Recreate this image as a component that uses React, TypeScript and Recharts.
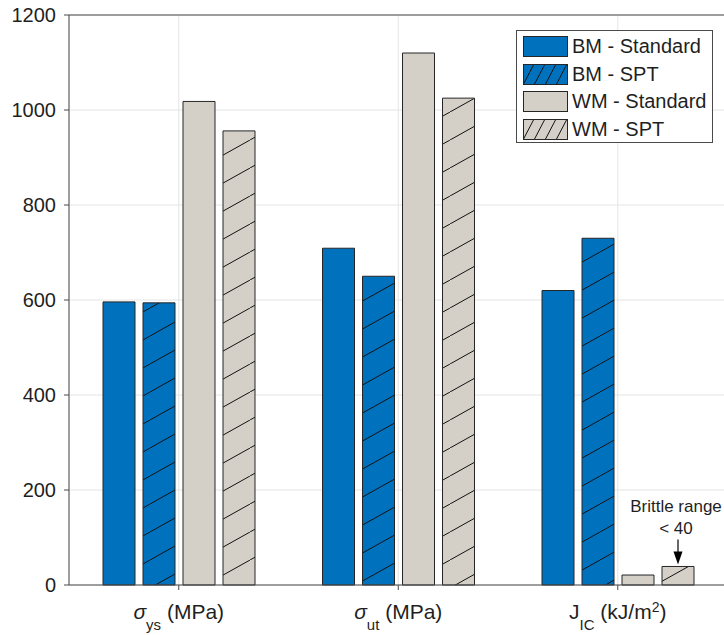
import React from 'react';
import { BarChart, Bar, XAxis, YAxis, CartesianGrid, LabelList } from 'recharts';

// ---------------- data ----------------
const CATEGORIES = ['sigma_ys', 'sigma_ut', 'J_IC'];
const BM_STANDARD = [596, 709, 620];
const BM_SPT = [594, 650, 730];
const WM_STANDARD = [1018, 1120, 21];
const WM_SPT = [956, 1025, 39];
const Y_TICKS = [0, 200, 400, 600, 800, 1000, 1200];
const SERIES_NAMES = ['BM - Standard', 'BM - SPT', 'WM - Standard', 'WM - SPT'];

type Part = { t: string; italic?: boolean; sub?: boolean; sup?: boolean };
const TICK_LABELS: Part[][] = [
  [{ t: 'σ', italic: true }, { t: 'ys', sub: true }, { t: ' (MPa)' }],
  [{ t: 'σ', italic: true }, { t: 'ut', sub: true }, { t: ' (MPa)' }],
  [{ t: 'J' }, { t: 'IC', sub: true }, { t: ' (kJ/m' }, { t: '2', sup: true }, { t: ')' }],
];
const ANNOTATION_LINES = ['Brittle range', '< 40'];
const ANNOTATION_INDEX = 2;

// ---------------- style ----------------
const FONT = '"Liberation Sans", Arial, Helvetica, sans-serif';
const TEXT = '#1f1f1f';
const BLUE = '#0072BD';
const GRAY = '#D4D0C8';
const EDGE = '#262626';
const AXIS = '#4a4a4a';
const GRID = '#e4e4e4';
const SUB_DY = 11;
const SUP_DY = -7;

const data = CATEGORIES.map((name, i) => ({
  name,
  bmStd: BM_STANDARD[i],
  bmSpt: BM_SPT[i],
  wmStd: WM_STANDARD[i],
  wmSpt: WM_SPT[i],
}));

const SERIES = [
  { key: 'bmStd', fill: BLUE, legendFill: BLUE },
  { key: 'bmSpt', fill: 'url(#hatchBlue)', legendFill: 'url(#legHatchBlue)' },
  { key: 'wmStd', fill: GRAY, legendFill: GRAY },
  { key: 'wmSpt', fill: 'url(#hatchGray)', legendFill: 'url(#legHatchGray)' },
];

const Patterns = () => (
  <svg width={0} height={0} style={{ position: 'absolute' }}>
    <defs>
      {[
        ['hatchBlue', BLUE],
        ['hatchGray', GRAY],
      ].map(([id, c]) => (
        <pattern key={id} id={id} patternUnits="userSpaceOnUse" width={50} height={28}>
          <rect width={50} height={28} fill={c} />
          <line x1={-5} y1={30.8} x2={55} y2={-2.8} stroke="#111" strokeWidth={1} />
        </pattern>
      ))}
      {[
        ['legHatchBlue', BLUE],
        ['legHatchGray', GRAY],
      ].map(([id, c]) => (
        <pattern key={id} id={id} patternUnits="userSpaceOnUse" width={11} height={21}>
          <rect width={11} height={21} fill={c} />
          <line x1={-1} y1={22.9} x2={12} y2={-1.9} stroke="#111" strokeWidth={1} />
        </pattern>
      ))}
    </defs>
  </svg>
);

const YTick = (props: any) => {
  const { x, y, payload } = props;
  return (
    <text x={x} y={y} dy="0.36em" textAnchor="end" fontSize={20} fill={TEXT} fontFamily={FONT}>
      {payload.value}
    </text>
  );
};

const XTick = (props: any) => {
  const { x, y, payload } = props;
  const i = CATEGORIES.indexOf(payload.value);
  const parts = TICK_LABELS[i] || [];
  let shift = 0;
  const spans = parts.map((p, k) => {
    const target = p.sub ? SUB_DY : p.sup ? SUP_DY : 0;
    const dy = target - shift;
    shift = target;
    return (
      <tspan
        key={k}
        dy={dy}
        fontSize={p.sub ? 15 : p.sup ? 14 : 21}
        fontStyle={p.italic ? 'italic' : 'normal'}
      >
        {p.t}
      </tspan>
    );
  });
  return (
    <text x={x} y={y + 29} textAnchor="middle" fill={TEXT} fontFamily={FONT} style={{ whiteSpace: 'pre' }}>
      {spans}
    </text>
  );
};

const BrittleLabel = (props: any) => {
  const vb = props.viewBox || props;
  const x = props.x ?? vb.x;
  const y = props.y ?? vb.y;
  const width = props.width ?? vb.width;
  if (props.index !== ANNOTATION_INDEX) return null;
  const cx = x + width / 2;
  return (
    <g>
      <text x={cx - 2} y={y - 54} textAnchor="middle" fontSize={17} fill={TEXT} fontFamily={FONT}>
        {ANNOTATION_LINES[0]}
      </text>
      <text x={cx - 2} y={y - 32} textAnchor="middle" fontSize={17} fill={TEXT} fontFamily={FONT}>
        {ANNOTATION_LINES[1]}
      </text>
      <line x1={cx} x2={cx} y1={y - 27} y2={y - 12} stroke="#000" strokeWidth={1.2} />
      <polygon points={`${cx - 4.5},${y - 15} ${cx + 4.5},${y - 15} ${cx},${y - 2}`} fill="#000" />
    </g>
  );
};

const LegendBox = () => (
  <div
    style={{
      position: 'absolute',
      left: 516,
      top: 30,
      width: 197,
      height: 113,
      boxSizing: 'border-box',
      border: `1px solid ${AXIS}`,
      background: '#fff',
    }}
  >
    {SERIES.map((s, i) => (
      <div
        key={s.key}
        style={{
          position: 'absolute',
          left: 6,
          top: 5 + i * 27.7,
          height: 21,
          display: 'flex',
          alignItems: 'center',
        }}
      >
        <svg width={45} height={21} style={{ display: 'block' }}>
          <rect x={0.5} y={0.5} width={44} height={20} fill={s.legendFill} stroke={EDGE} strokeWidth={1} />
        </svg>
        <span
          style={{
            display: 'inline-block',
            marginLeft: 4,
            fontSize: 20,
            color: TEXT,
            fontFamily: FONT,
            whiteSpace: 'pre',
            lineHeight: '21px',
          }}
        >
          {SERIES_NAMES[i]}
        </span>
      </div>
    ))}
  </div>
);

export default function App() {
  return (
    <div
      style={{
        position: 'fixed',
        left: 0,
        top: 0,
        width: 724,
        height: 635,
        overflow: 'hidden',
        background: '#fff',
        fontFamily: FONT,
      }}
    >
      <Patterns />
      <BarChart
        width={740}
        height={635}
        data={data}
        margin={{ top: 14, right: 11.5, bottom: 0, left: 0 }}
        barSize={32}
        barGap={8}
      >
        <CartesianGrid stroke={GRID} strokeWidth={1} />
        <XAxis
          dataKey="name"
          height={50}
          interval={0}
          tickSize={5}
          tickMargin={0}
          tick={<XTick />}
          axisLine={{ stroke: AXIS }}
          tickLine={{ stroke: AXIS }}
        />
        <XAxis
          xAxisId="top"
          orientation="top"
          dataKey="name"
          height={1}
          interval={0}
          tick={false}
          tickLine={false}
          axisLine={{ stroke: AXIS }}
        />
        <YAxis
          width={69}
          domain={[0, 1200]}
          ticks={Y_TICKS}
          interval={0}
          tickSize={5}
          tickMargin={8}
          tick={<YTick />}
          axisLine={{ stroke: AXIS }}
          tickLine={{ stroke: AXIS }}
        />
        <YAxis
          yAxisId="right"
          orientation="right"
          width={1}
          domain={[0, 1200]}
          ticks={Y_TICKS}
          interval={0}
          tick={false}
          tickLine={false}
          axisLine={{ stroke: AXIS }}
        />
        {SERIES.map((s) => (
          <Bar
            key={s.key}
            dataKey={s.key}
            name={s.key}
            fill={s.fill}
            stroke={EDGE}
            strokeWidth={1}
            isAnimationActive={false}
          >
            {s.key === 'wmSpt' ? <LabelList dataKey="wmSpt" content={<BrittleLabel />} /> : null}
          </Bar>
        ))}
      </BarChart>
      <LegendBox />
    </div>
  );
}
